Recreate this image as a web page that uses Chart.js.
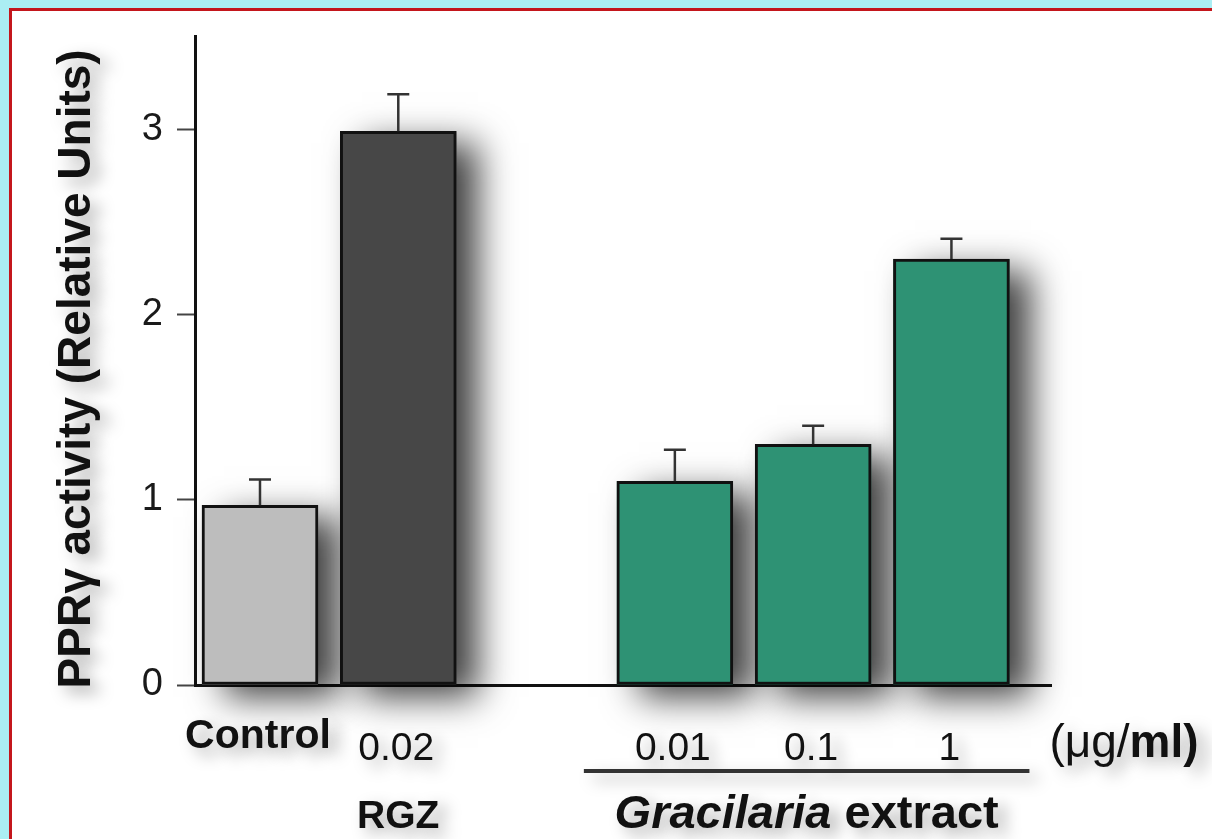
<!DOCTYPE html>
<html>
<head>
<meta charset="utf-8">
<script src="https://cdn.jsdelivr.net/npm/chart.js@4.4.1/dist/chart.umd.min.js"></script>
<style>
  html, body { margin: 0; padding: 0; }
  body { width: 1212px; height: 839px; background: #abeef3; overflow: hidden; position: relative; font-family: "Liberation Sans", Arial, sans-serif; }
  #panel { position: absolute; left: 9px; top: 8px; width: 1250px; height: 900px; background: #fff; border-left: 3px solid #c4161c; border-top: 3px solid #c4161c; }
  #wrap { position: absolute; left: 0; top: 0; width: 1212px; height: 839px; }
</style>
</head>
<body>
<div id="panel"></div>
<div id="wrap"><canvas id="chart" width="1212" height="839"></canvas></div>
<script>
// data
const categories = ["Control", "0.02", "0.01", "0.1", "1"];
const positions = [1, 2, 4, 5, 6];
const activity = [0.97, 2.99, 1.10, 1.30, 2.30];
const errors = [0.14, 0.20, 0.17, 0.10, 0.11];
const yTicks = [0, 1, 2, 3];
const unitLabel = ["(\u03bcg/", "ml)"];
const rgzLabel = "RGZ";
const extractLabel = ["Gracilaria", " extract"];
const yTitle = "PPR\u03b3 activity (Relative Units)";

const barColors = ["#bdbdbd", "#474747", "#2e9274", "#2e9274", "#2e9274"];
const FONT = '"Liberation Sans", Arial, sans-serif';

function setShadow(ctx, alpha, blur, dx, dy) {
  ctx.shadowColor = `rgba(0,0,0,${alpha})`;
  ctx.shadowBlur = blur;
  ctx.shadowOffsetX = dx;
  ctx.shadowOffsetY = dy;
}

// soft drop shadow behind each bar, drawn from the bar elements
const barShadow = {
  id: "barShadow",
  beforeDatasetsDraw(chart) {
    const ctx = chart.ctx;
    const meta = chart.getDatasetMeta(0);
    ctx.save();
    setShadow(ctx, 0.75, 34, 22, 12);
    meta.data.forEach((bar, i) => {
      const { x, y, base, width } = bar.getProps(["x", "y", "base", "width"], true);
      ctx.fillStyle = barColors[i];
      ctx.fillRect(x - width / 2, y, width, base - y);
    });
    ctx.restore();
  }
};

const errorBars = {
  id: "errorBars",
  afterDatasetsDraw(chart) {
    const ctx = chart.ctx;
    const x = chart.scales.x;
    const y = chart.scales.y;
    ctx.save();
    ctx.strokeStyle = "#333";
    ctx.lineWidth = 2.5;
    activity.forEach((v, i) => {
      const px = x.getPixelForValue(positions[i]);
      const top = y.getPixelForValue(v + errors[i]);
      const base = y.getPixelForValue(v);
      ctx.beginPath();
      ctx.moveTo(px, base);
      ctx.lineTo(px, top);
      ctx.moveTo(px - 11, top);
      ctx.lineTo(px + 11, top);
      ctx.stroke();
    });
    ctx.restore();
  }
};

const labelsPlugin = {
  id: "labelsPlugin",
  afterDraw(chart) {
    const ctx = chart.ctx;
    const x = chart.scales.x;
    const y = chart.scales.y;
    ctx.save();
    setShadow(ctx, 0.35, 16, 9, 7);
    ctx.fillStyle = "#111";
    ctx.textBaseline = "alphabetic";
    ctx.textAlign = "center";

    // category labels
    categories.forEach((c, i) => {
      const px = x.getPixelForValue(positions[i]);
      if (i === 0) {
        ctx.font = `bold 41px ${FONT}`;
        ctx.fillText(c, px - 2, 748);
      } else {
        ctx.font = `39px ${FONT}`;
        ctx.fillText(c, px - 2, 760);
      }
    });

    // unit label, mixed weights
    ctx.textAlign = "left";
    ctx.font = `46px ${FONT}`;
    const w1 = ctx.measureText(unitLabel[0]).width;
    ctx.font = `bold 46px ${FONT}`;
    const w2 = ctx.measureText(unitLabel[1]).width;
    const ux = 1124 - (w1 + w2) / 2;
    ctx.font = `46px ${FONT}`;
    ctx.fillText(unitLabel[0], ux, 757);
    ctx.font = `bold 46px ${FONT}`;
    ctx.fillText(unitLabel[1], ux + w1, 757);

    // RGZ
    ctx.textAlign = "center";
    ctx.font = `bold 39px ${FONT}`;
    ctx.fillText(rgzLabel, x.getPixelForValue(positions[1]), 828);

    // group line
    const gx0 = x.getPixelForValue(positions[2]) - 91;
    const gx1 = x.getPixelForValue(positions[4]) + 78;
    ctx.strokeStyle = "#333";
    ctx.lineWidth = 4;
    ctx.beginPath();
    ctx.moveTo(gx0, 771);
    ctx.lineTo(gx1, 771);
    ctx.stroke();

    // Gracilaria extract
    ctx.textAlign = "left";
    ctx.font = `italic bold 47px ${FONT}`;
    const g1 = ctx.measureText(extractLabel[0]).width;
    ctx.font = `bold 47px ${FONT}`;
    const g2 = ctx.measureText(extractLabel[1]).width;
    const gx = (gx0 + gx1) / 2 - (g1 + g2) / 2;
    ctx.font = `italic bold 47px ${FONT}`;
    ctx.fillText(extractLabel[0], gx, 828);
    ctx.font = `bold 47px ${FONT}`;
    ctx.fillText(extractLabel[1], gx + g1, 828);

    // y title
    ctx.save();
    ctx.translate(90, (y.top + y.bottom) / 2 + 8);
    ctx.rotate(-Math.PI / 2);
    ctx.textAlign = "center";
    ctx.font = `bold 46px ${FONT}`;
    ctx.fillText(yTitle, 0, 0);
    ctx.restore();

    ctx.restore();
  }
};

new Chart(document.getElementById("chart"), {
  type: "bar",
  data: {
    datasets: [{
      data: positions.map((p, i) => ({ x: p, y: activity[i] })),
      backgroundColor: barColors,
      borderColor: "#111",
      borderWidth: 3,
      borderSkipped: false,
      barThickness: 116
    }]
  },
  options: {
    responsive: false,
    animation: false,
    devicePixelRatio: 1,
    layout: { padding: { left: 0, top: 35, right: 161, bottom: 0 } },
    plugins: { legend: { display: false }, tooltip: { enabled: false } },
    scales: {
      x: {
        type: "linear",
        offset: false,
        min: 0.53,
        max: 6.72,
        grid: { display: false, drawTicks: false, offset: false },
        ticks: { display: false },
        border: { display: true, color: "#111", width: 3 },
        afterFit(scale) { scale.height = 154; }
      },
      y: {
        min: 0,
        max: 3.5,
        afterBuildTicks(scale) { scale.ticks = yTicks.map((v) => ({ value: v })); },
        grid: { drawOnChartArea: false, drawTicks: true, tickLength: 18, tickWidth: 2, tickColor: "#444" },
        border: { display: true, color: "#111", width: 3 },
        ticks: { color: "#1a1a1a", font: { family: FONT, size: 38 }, padding: 14 },
        afterFit(scale) { scale.width = 195; }
      }
    }
  },
  plugins: [barShadow, errorBars, labelsPlugin]
});
</script>
</body>
</html>
